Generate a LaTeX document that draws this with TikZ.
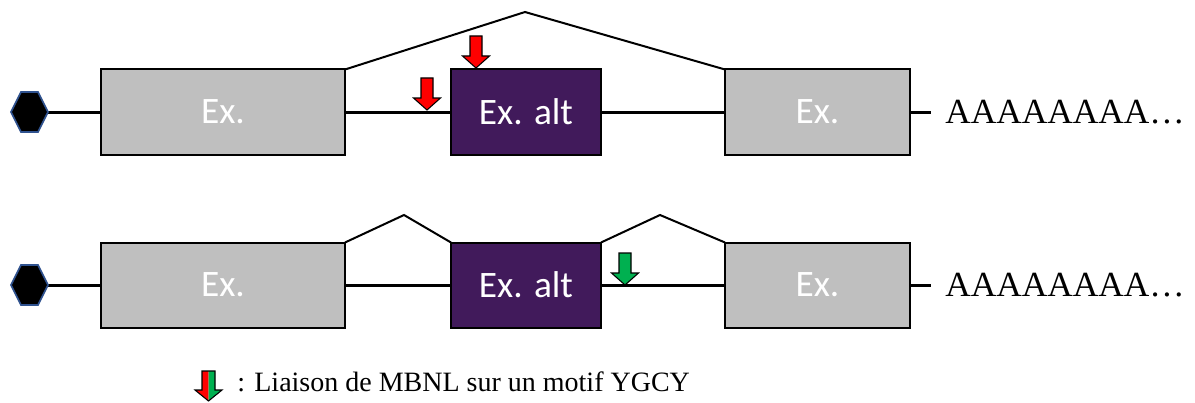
\documentclass[tikz,border=0pt]{standalone}
\usepackage{fontspec}
\setmainfont{Liberation Serif}
\newfontfamily\calibrifont{Carlito}
\definecolor{exgray}{HTML}{BFBFBF}
\definecolor{expurple}{HTML}{411A5B}
\definecolor{hexblue}{HTML}{2F528F}
\definecolor{arrred}{HTML}{FF0000}
\definecolor{arrgreen}{HTML}{00B050}
\newcommand\mbnlarrow[3]{%
  \filldraw[fill=#3, draw=black, line width=0.8pt, line join=miter]
    (#1-6,#2-32) -- (#1+6,#2-32) -- (#1+6,#2-12) -- (#1+13.5,#2-12) -- (#1,#2)
    -- (#1-13.5,#2-12) -- (#1-6,#2-12) -- cycle;}
\begin{document}
\begin{tikzpicture}[x=0.75pt,y=-0.75pt,
  exon/.style={draw=black, line width=1.5pt, fill=exgray, inner sep=0pt, outer sep=0pt,
    minimum height=63.75pt, text=white, font=\calibrifont\fontsize{28}{32}\selectfont},
  altexon/.style={exon, fill=expurple},
  intron/.style={line width=2.25pt, black},
  splice/.style={line width=1.5pt, black, line join=miter},
  hexcap/.style={fill=black, draw=hexblue, line width=1.2pt},
  polya/.style={font=\fontsize{26.5}{30}\selectfont, inner sep=0pt, anchor=base west}]
\useasboundingbox (0,0) rectangle (1195,403);
% ---------- row 1 ----------
\coordinate (capA) at (48,112);
\coordinate (endA) at (931,112);
\node[exon, minimum width=183pt] (a1) at (223,112) {Ex.};
\node[altexon, minimum width=112.5pt] (a2) at (526,112) {Ex. alt};
\node[exon, minimum width=138.75pt] (a3) at (817.5,112) {Ex.};
\draw[intron] (capA) -- (a1.west);
\draw[intron] (a1.east) -- (a2.west);
\draw[intron] (a2.east) -- (a3.west);
\draw[intron] (a3.east) -- (endA);
\filldraw[hexcap] (11,112) -- (21,92) -- (38,92) -- (48,112) -- (38,132) -- (21,132) -- cycle;
\coordinate (peakA) at (525,12);
\draw[splice] (a1.north east) -- (peakA) -- (a3.north west);
\node[polya] (pa) at (945,123) {AAAAAAAA\ldots};
\mbnlarrow{427}{110}{arrred}
\mbnlarrow{476}{68}{arrred}
% ---------- row 2 ----------
\coordinate (capB) at (48,285);
\coordinate (endB) at (931,285);
\node[exon, minimum width=183pt] (b1) at (223,285) {Ex.};
\node[altexon, minimum width=112.5pt] (b2) at (526,285) {Ex. alt};
\node[exon, minimum width=138.75pt] (b3) at (817.5,285) {Ex.};
\draw[intron] (capB) -- (b1.west);
\draw[intron] (b1.east) -- (b2.west);
\draw[intron] (b2.east) -- (b3.west);
\draw[intron] (b3.east) -- (endB);
\filldraw[hexcap] (11,285) -- (21,265) -- (38,265) -- (48,285) -- (38,305) -- (21,305) -- cycle;
\coordinate (peakB1) at (404,215);
\coordinate (peakB2) at (660,215);
\draw[splice] (b1.north east) -- (peakB1) -- (b2.north west);
\draw[splice] (b2.north east) -- (peakB2) -- (b3.north west);
\node[polya] (pb) at (945,296) {AAAAAAAA\ldots};
\mbnlarrow{625}{285}{arrgreen}
% ---------- legend ----------
\fill[arrred] (202,371) -- (208.5,371) -- (208.5,401) -- (195,390) -- (202,390) -- cycle;
\fill[arrgreen] (208.5,371) -- (215,371) -- (215,390) -- (222,390) -- (208.5,401) -- cycle;
\draw[black, line width=0.8pt, line join=miter]
  (202,371) -- (215,371) -- (215,390) -- (222,390) -- (208.5,401) -- (195,390) -- (202,390) -- cycle;
\node[font=\fontsize{21}{24}\selectfont, inner sep=0pt, anchor=base west] (leg) at (237,391)
  {: Liaison de MBNL sur un motif YGCY};
\end{tikzpicture}
\end{document}
